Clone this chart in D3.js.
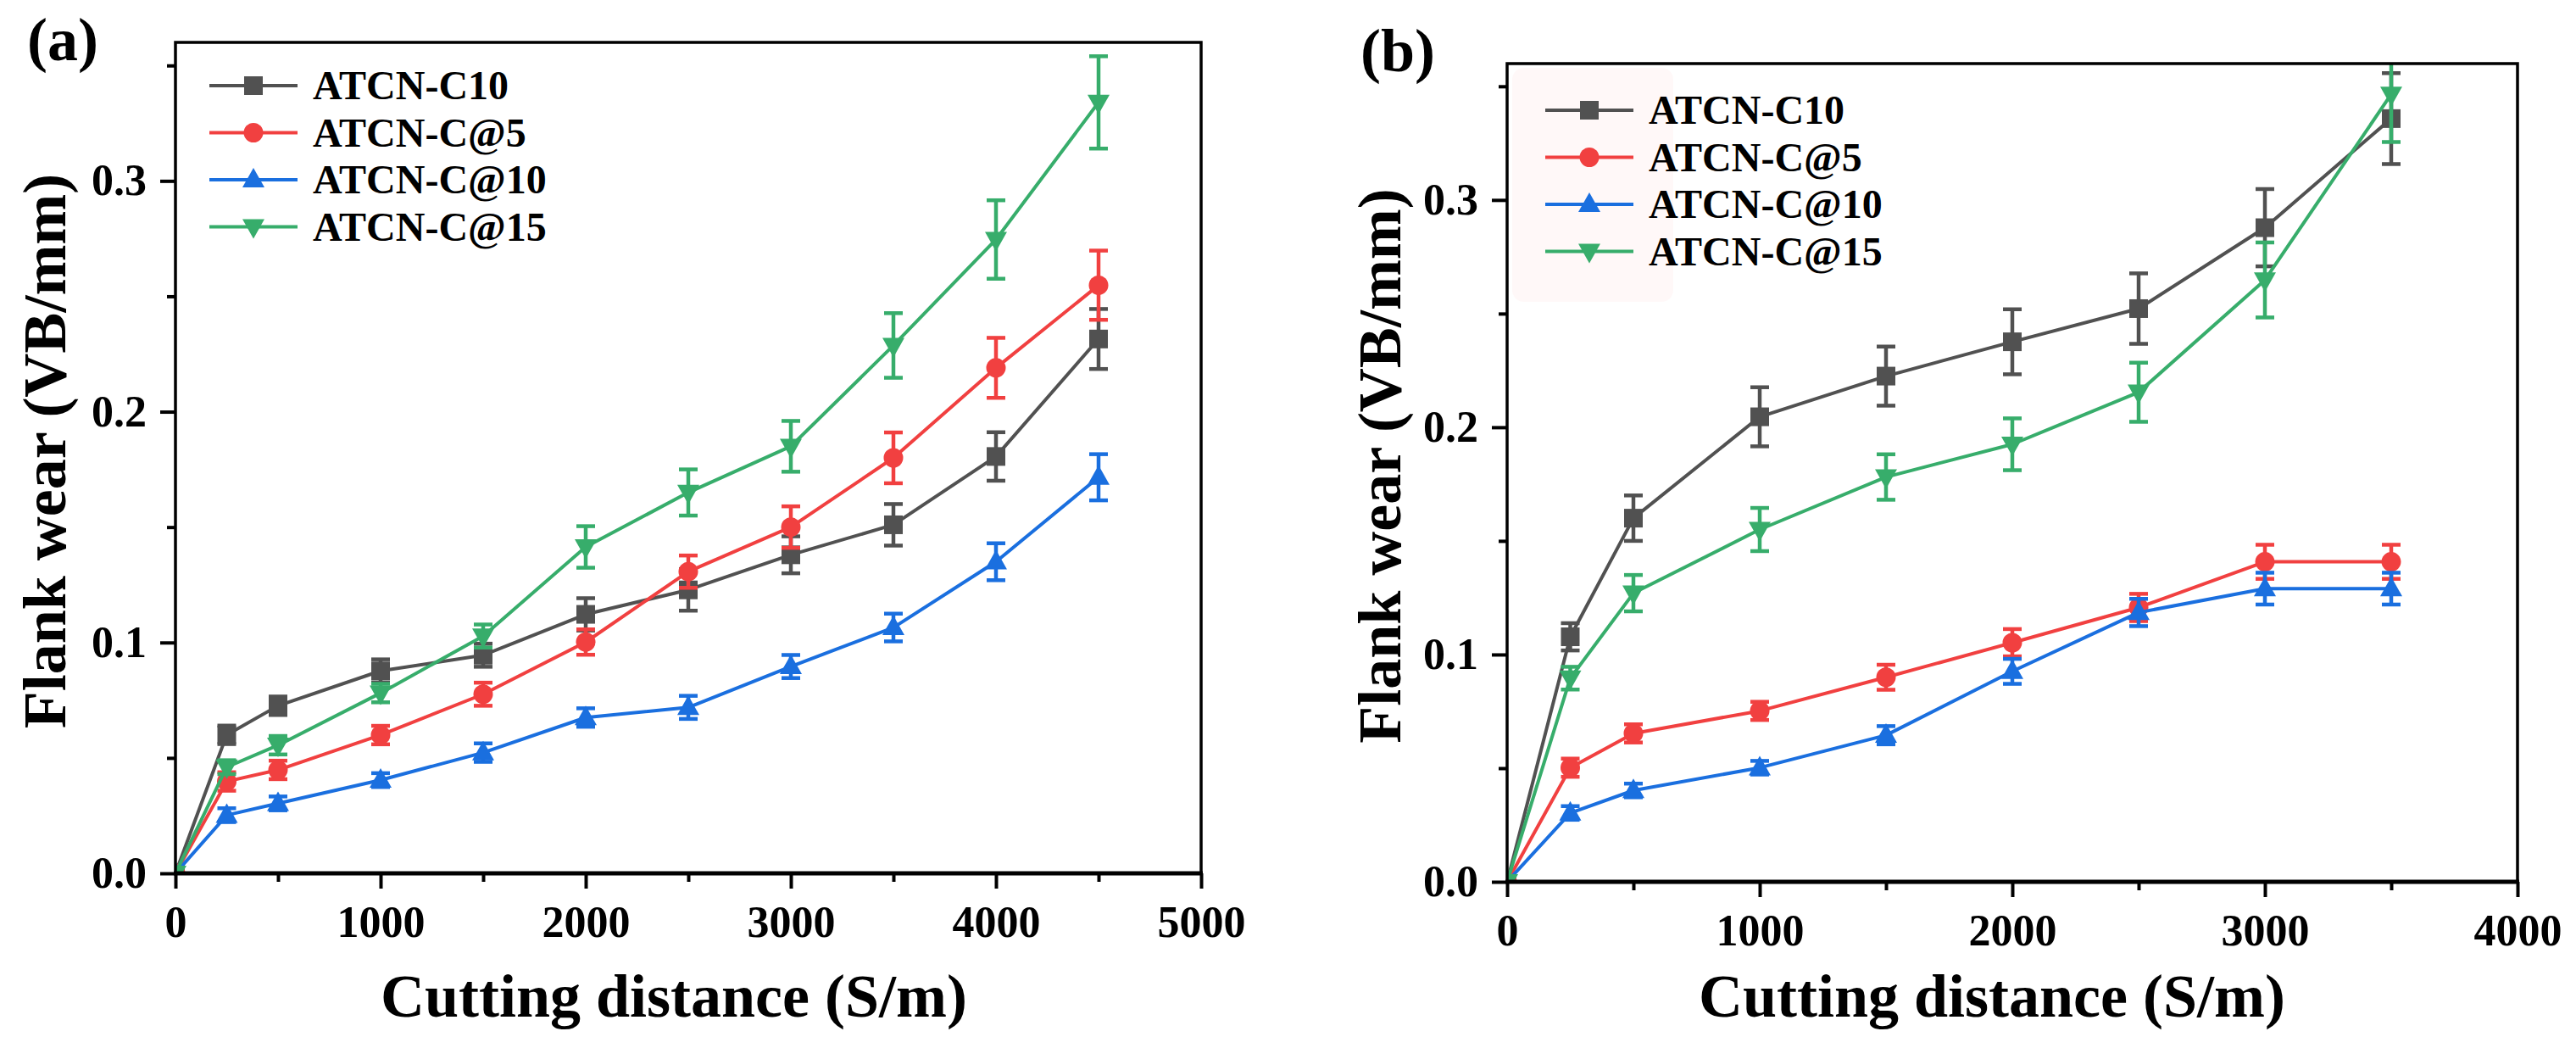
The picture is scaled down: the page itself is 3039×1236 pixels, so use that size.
<!DOCTYPE html>
<html>
<head>
  <script src="https://d3js.org/d3.v7.min.js"></script>
  <style>
    html, body { margin: 0; padding: 0; background: #fff; }
    text {
      font-family: "Liberation Serif", "Times New Roman", serif;
      font-weight: bold;
      fill: #000;
    }
  </style>
</head>
<body>
<script>
const width = 3039;
const height = 1236;

// series shared by both panels
const seriesNames = ["ATCN-C10", "ATCN-C@5", "ATCN-C@10", "ATCN-C@15"];
const seriesColors = ["#515151", "#F14040", "#1A6FDF", "#37AD6B"];
const seriesSymbols = ["square", "circle", "triangle", "triangleDown"];

// panel (a) data
const distA = [0, 250, 500, 1000, 1500, 2000, 2500, 3000, 3500, 4000, 4500];
const wearA = [
  [0, 0.060, 0.0726, 0.0877, 0.0945, 0.1122, 0.1228, 0.138, 0.151, 0.1806, 0.2315],
  [0, 0.0398, 0.0448, 0.0599, 0.0776, 0.1002, 0.1307, 0.150, 0.180, 0.219, 0.2548],
  [0, 0.0252, 0.0303, 0.0404, 0.0523, 0.0675, 0.0719, 0.0896, 0.1065, 0.135, 0.1716],
  [0, 0.046, 0.0555, 0.0781, 0.1028, 0.1414, 0.165, 0.185, 0.2287, 0.2746, 0.334]
];
const errA = [
  [0, 0.004, 0.004, 0.005, 0.005, 0.007, 0.009, 0.008, 0.009, 0.0105, 0.013],
  [0, 0.004, 0.004, 0.004, 0.005, 0.0055, 0.007, 0.009, 0.011, 0.013, 0.015],
  [0, 0.003, 0.003, 0.003, 0.004, 0.004, 0.005, 0.005, 0.006, 0.008, 0.010],
  [0, 0.003, 0.004, 0.004, 0.005, 0.009, 0.010, 0.011, 0.014, 0.017, 0.020]
];
const xTicksA = [0, 1000, 2000, 3000, 4000, 5000];
const xMinorA = [500, 1500, 2500, 3500, 4500];

// panel (b) data
const distB = [0, 250, 500, 1000, 1500, 2000, 2500, 3000, 3500];
const wearB = [
  [0, 0.1078, 0.160, 0.2046, 0.2225, 0.2376, 0.2522, 0.2878, 0.3358],
  [0, 0.0502, 0.0653, 0.0752, 0.090, 0.1052, 0.1207, 0.1408, 0.1408],
  [0, 0.0303, 0.0402, 0.0502, 0.0645, 0.0926, 0.1185, 0.129, 0.129],
  [0, 0.0896, 0.127, 0.155, 0.1781, 0.1925, 0.2154, 0.2648, 0.3465]
];
const errB = [
  [0, 0.006, 0.010, 0.013, 0.013, 0.0143, 0.0155, 0.017, 0.020],
  [0, 0.004, 0.004, 0.004, 0.0055, 0.006, 0.006, 0.0075, 0.0075],
  [0, 0.003, 0.003, 0.003, 0.004, 0.0055, 0.006, 0.007, 0.007],
  [0, 0.005, 0.008, 0.0095, 0.010, 0.0114, 0.013, 0.0165, 0.021]
];
const xTicksB = [0, 1000, 2000, 3000, 4000];
const xMinorB = [500, 1500, 2500, 3500];

// y axis is the same on both
const yTicks = [0, 0.1, 0.2, 0.3];
const yMinor = [0.05, 0.15, 0.25, 0.35];
const yMax = 0.36;

const svg = d3.select("body").append("svg")
  .attr("width", width)
  .attr("height", height);

const panels = [
  { id: "a", label: "(a)", dist: distA, wear: wearA, err: errA, xMax: 5000,
    xTicks: xTicksA, xMinor: xMinorA,
    box: { left: 207, right: 1417, top: 50, bottom: 1030 },
    labelPos: [32, 71], yTitleX: 77, xTitleX: 795,
    legend: { x: 247, y: 101 }, legendBg: false },
  { id: "b", label: "(b)", dist: distB, wear: wearB, err: errB, xMax: 4000,
    xTicks: xTicksB, xMinor: xMinorB,
    box: { left: 1778, right: 2970, top: 75, bottom: 1040 },
    labelPos: [1605, 84], yTitleX: 1652, xTitleX: 2350,
    legend: { x: 1823, y: 130 }, legendBg: true }
];

function symbolPath(type) {
  if (type === "square") return "M-11,-11H11V11H-11Z";
  if (type === "circle") return "M-11.5,0A11.5,11.5 0 1,0 11.5,0A11.5,11.5 0 1,0 -11.5,0Z";
  if (type === "triangle") return "M0,-14L13,9L-13,9Z";
  return "M0,14L13,-9L-13,-9Z";
}

panels.forEach(p => {
  const b = p.box;
  const x = d3.scaleLinear().domain([0, p.xMax]).range([b.left, b.right]);
  const y = d3.scaleLinear().domain([0, yMax]).range([b.bottom, b.top]);

  // clip for data
  svg.append("clipPath").attr("id", "clip-" + p.id)
    .append("rect")
    .attr("x", b.left).attr("y", b.top)
    .attr("width", b.right - b.left).attr("height", b.bottom - b.top);

  if (p.legendBg) {
    svg.append("rect")
      .attr("x", 1784).attr("y", 80)
      .attr("width", 190).attr("height", 276)
      .attr("rx", 14)
      .attr("fill", "#fff8f8");
  }

  const g = svg.append("g").attr("clip-path", `url(#clip-${p.id})`);

  p.wear.forEach((vals, si) => {
    const pts = p.dist.map((d, i) => ({ x: d, y: vals[i], e: p.err[si][i] }));
    const col = seriesColors[si];
    const sg = g.append("g");

    sg.append("path")
      .datum(pts)
      .attr("fill", "none")
      .attr("stroke", col)
      .attr("stroke-width", 4)
      .attr("stroke-linejoin", "round")
      .attr("d", d3.line().x(d => x(d.x)).y(d => y(d.y)));

    // error bars
    const eb = sg.selectAll(".eb").data(pts.filter(d => d.e > 0)).enter().append("g");
    eb.append("line")
      .attr("x1", d => x(d.x)).attr("x2", d => x(d.x))
      .attr("y1", d => y(d.y - d.e)).attr("y2", d => y(d.y + d.e))
      .attr("stroke", col).attr("stroke-width", 4.5);
    eb.append("line")
      .attr("x1", d => x(d.x) - 11).attr("x2", d => x(d.x) + 11)
      .attr("y1", d => y(d.y + d.e)).attr("y2", d => y(d.y + d.e))
      .attr("stroke", col).attr("stroke-width", 4.5);
    eb.append("line")
      .attr("x1", d => x(d.x) - 11).attr("x2", d => x(d.x) + 11)
      .attr("y1", d => y(d.y - d.e)).attr("y2", d => y(d.y - d.e))
      .attr("stroke", col).attr("stroke-width", 4.5);

    sg.selectAll(".mk").data(pts).enter().append("path")
      .attr("transform", d => `translate(${x(d.x)},${y(d.y)})`)
      .attr("d", symbolPath(seriesSymbols[si]))
      .attr("fill", col);
  });

  // axes
  const xAxis = svg.append("g")
    .attr("transform", `translate(0,${b.bottom})`)
    .call(d3.axisBottom(x).tickValues(p.xTicks).tickFormat(d3.format("d"))
      .tickSize(18).tickPadding(20));
  const xMinorAxis = svg.append("g")
    .attr("transform", `translate(0,${b.bottom})`)
    .call(d3.axisBottom(x).tickValues(p.xMinor).tickFormat("").tickSize(10));
  const yAxis = svg.append("g")
    .attr("transform", `translate(${b.left},0)`)
    .call(d3.axisLeft(y).tickValues(yTicks).tickFormat(d3.format(".1f"))
      .tickSize(18).tickPadding(16));
  const yMinorAxis = svg.append("g")
    .attr("transform", `translate(${b.left},0)`)
    .call(d3.axisLeft(y).tickValues(yMinor).tickFormat("").tickSize(10));

  [xAxis, xMinorAxis, yAxis, yMinorAxis].forEach(a => {
    a.select(".domain").remove();
    a.selectAll(".tick line").attr("stroke", "#000").attr("stroke-width", 4);
    a.selectAll(".tick text").style("font-size", "52px").attr("fill", "#000");
  });

  // frame
  svg.append("rect")
    .attr("x", b.left).attr("y", b.top)
    .attr("width", b.right - b.left).attr("height", b.bottom - b.top)
    .attr("fill", "none").attr("stroke", "#000").attr("stroke-width", 3.5);
  svg.append("line")
    .attr("x1", b.left - 2).attr("x2", b.right + 2)
    .attr("y1", b.bottom).attr("y2", b.bottom)
    .attr("stroke", "#000").attr("stroke-width", 5);

  // titles
  svg.append("text")
    .attr("x", p.xTitleX).attr("y", 1199)
    .attr("text-anchor", "middle")
    .style("font-size", "72px")
    .text("Cutting distance (S/m)");

  svg.append("text")
    .attr("transform", `translate(${p.yTitleX},${(b.top + b.bottom) / 2 - 8}) rotate(-90)`)
    .attr("text-anchor", "middle")
    .style("font-size", "72px")
    .text("Flank wear (VB/mm)");

  svg.append("text")
    .attr("x", p.labelPos[0]).attr("y", p.labelPos[1])
    .style("font-size", "72px")
    .text(p.label);

  // legend
  const lg = svg.append("g").attr("transform", `translate(${p.legend.x},${p.legend.y})`);
  seriesNames.forEach((name, si) => {
    const row = lg.append("g").attr("transform", `translate(0,${si * 55.5})`);
    row.append("line")
      .attr("x1", 0).attr("x2", 104).attr("y1", 0).attr("y2", 0)
      .attr("stroke", seriesColors[si]).attr("stroke-width", 4);
    row.append("path")
      .attr("transform", "translate(52,0)")
      .attr("d", symbolPath(seriesSymbols[si]))
      .attr("fill", seriesColors[si]);
    row.append("text")
      .attr("x", 122).attr("y", 16)
      .style("font-size", "48px")
      .text(name);
  });
});
</script>
</body>
</html>
